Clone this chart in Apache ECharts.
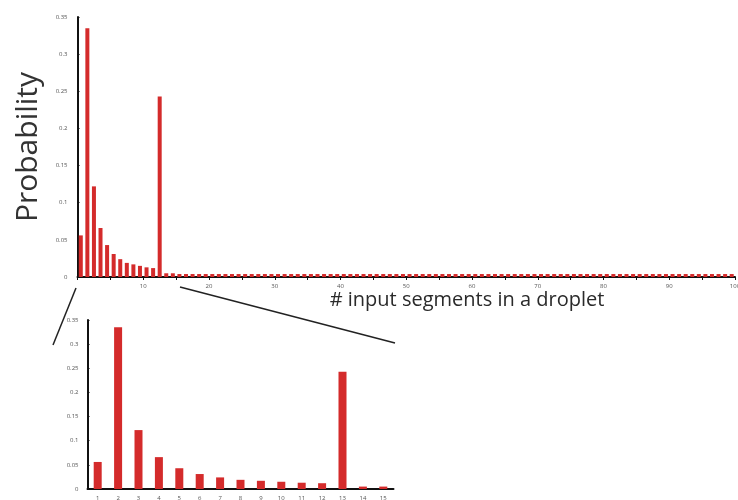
<!DOCTYPE html>
<html>
<head>
<meta charset="utf-8">
<script src="https://cdn.jsdelivr.net/npm/echarts@6/dist/echarts.min.js"></script>
<style>
  html, body { margin: 0; padding: 0; background: #fff; }
  #main { width: 738px; height: 500px; }
</style>
</head>
<body>
<div id="main"></div>
<script>
var chartDom = document.getElementById('main');
var myChart = echarts.init(chartDom);

var barColor = '#d42b2b';
var fontName = 'Open Sans';

// number of input segments per droplet
var segments = [1, 2, 3, 4, 5, 6, 7, 8, 9, 10,
  11, 12, 13, 14, 15, 16, 17, 18, 19, 20,
  21, 22, 23, 24, 25, 26, 27, 28, 29, 30,
  31, 32, 33, 34, 35, 36, 37, 38, 39, 40,
  41, 42, 43, 44, 45, 46, 47, 48, 49, 50,
  51, 52, 53, 54, 55, 56, 57, 58, 59, 60,
  61, 62, 63, 64, 65, 66, 67, 68, 69, 70,
  71, 72, 73, 74, 75, 76, 77, 78, 79, 80,
  81, 82, 83, 84, 85, 86, 87, 88, 89, 90,
  91, 92, 93, 94, 95, 96, 97, 98, 99, 100];

// probability
var probs = [0.056, 0.335, 0.122, 0.066, 0.043, 0.031, 0.024, 0.019, 0.017, 0.015,
  0.013, 0.012, 0.243, 0.005, 0.005, 0.004, 0.004, 0.004, 0.004, 0.004,
  0.004, 0.004, 0.004, 0.004, 0.004, 0.004, 0.004, 0.004, 0.004, 0.004,
  0.004, 0.004, 0.004, 0.004, 0.004, 0.004, 0.004, 0.004, 0.004, 0.004,
  0.004, 0.004, 0.004, 0.004, 0.004, 0.004, 0.004, 0.004, 0.004, 0.004,
  0.004, 0.004, 0.004, 0.004, 0.004, 0.004, 0.004, 0.004, 0.004, 0.004,
  0.004, 0.004, 0.004, 0.004, 0.004, 0.004, 0.004, 0.004, 0.004, 0.004,
  0.004, 0.004, 0.004, 0.004, 0.004, 0.004, 0.004, 0.004, 0.004, 0.004,
  0.004, 0.004, 0.004, 0.004, 0.004, 0.004, 0.004, 0.004, 0.004, 0.004,
  0.004, 0.004, 0.004, 0.004, 0.004, 0.004, 0.004, 0.004, 0.004, 0.004];

var zoomCount = 15; // the inset shows the first 15

var mainData = [];
for (var i = 0; i < segments.length; i++) {
  mainData.push([segments[i] - 0.5, probs[i]]); // bar sits inside [n-1, n]
}
var zoomCats = segments.slice(0, zoomCount).map(String);
var zoomData = probs.slice(0, zoomCount);

var axisLine = { show: true, lineStyle: { color: '#111', width: 2 } };
var tickLabel = { color: '#555', fontSize: 6, fontFamily: fontName };

var option = {
  animation: false,
  grid: [
    { left: 77.5, right: 3, top: 17, bottom: 223, outerBoundsMode: 'none' },   // big chart
    { left: 87.5, width: 306, top: 320, bottom: 11, outerBoundsMode: 'none' }  // inset
  ],
  xAxis: [
    {
      type: 'value',
      min: 0, max: 100, interval: 10,
      axisLine: axisLine,
      axisTick: { show: true, length: 3, lineStyle: { color: '#111' } },
      minorTick: { show: true, splitNumber: 2, length: 3, lineStyle: { color: '#111' } },
      splitLine: { show: false },
      axisLabel: Object.assign({ margin: 6, showMinLabel: false }, tickLabel)
    },
    {
      type: 'category',
      gridIndex: 1,
      data: zoomCats,
      axisLine: axisLine,
      axisTick: { show: false },
      axisLabel: Object.assign({ margin: 6, interval: 0 }, tickLabel)
    }
  ],
  yAxis: [
    {
      type: 'value',
      min: 0, max: 0.35, interval: 0.05,
      axisLine: axisLine,
      axisTick: { show: true, inside: true, length: 2, lineStyle: { color: '#111' } },
      splitLine: { show: false },
      axisLabel: Object.assign({ margin: 10 }, tickLabel),
      name: 'Probability',
      nameLocation: 'middle',
      nameGap: 34,
      nameTextStyle: { fontSize: 30, color: '#333', fontFamily: fontName }
    },
    {
      type: 'value',
      gridIndex: 1,
      min: 0, max: 0.35, interval: 0.05,
      axisLine: axisLine,
      axisTick: { show: true, inside: true, length: 2, lineStyle: { color: '#111' } },
      splitLine: { show: false },
      axisLabel: Object.assign({ margin: 9 }, tickLabel)
    }
  ],
  series: [
    {
      type: 'bar',
      data: mainData,
      barWidth: 4,
      itemStyle: { color: barColor }
    },
    {
      type: 'bar',
      xAxisIndex: 1,
      yAxisIndex: 1,
      data: zoomData,
      barWidth: 8,
      itemStyle: { color: barColor }
    }
  ],
  graphic: [
    // x axis title sits right of centre in the original
    {
      type: 'text', x: 467, y: 300,
      style: {
        text: '# input segments in a droplet',
        fontSize: 20, fill: '#2a2a2a', fontFamily: fontName,
        align: 'center', verticalAlign: 'middle'
      }
    },
    // lines joining the zoomed range to the inset
    { type: 'line', shape: { x1: 76, y1: 288, x2: 53, y2: 345 }, style: { stroke: '#222', lineWidth: 1.5 } },
    { type: 'line', shape: { x1: 180, y1: 287, x2: 395, y2: 343 }, style: { stroke: '#222', lineWidth: 1.5 } }
  ]
};

myChart.setOption(option);
</script>
</body>
</html>
